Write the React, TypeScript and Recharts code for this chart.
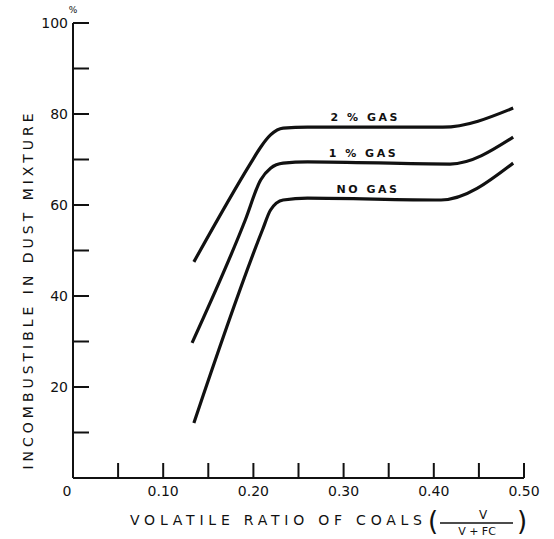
import React from 'react';
import { LineChart, Line, XAxis, YAxis, ReferenceDot, Label } from 'recharts';

// values (ratio = V / (V + FC), pct = incombustible %)
const twoPctGas = [
  { ratio: 0.134, pct: 47.5 },
  { ratio: 0.197, pct: 69.2 },
  { ratio: 0.208, pct: 72.7 },
  { ratio: 0.219, pct: 75.4 },
  { ratio: 0.233, pct: 76.9 },
  { ratio: 0.26, pct: 77.1 },
  { ratio: 0.41, pct: 77.1 },
  { ratio: 0.488, pct: 81.3 },
];

const onePctGas = [
  { ratio: 0.132, pct: 29.7 },
  { ratio: 0.191, pct: 56.7 },
  { ratio: 0.208, pct: 65.5 },
  { ratio: 0.219, pct: 68.1 },
  { ratio: 0.233, pct: 69.2 },
  { ratio: 0.26, pct: 69.5 },
  { ratio: 0.418, pct: 69.0 },
  { ratio: 0.488, pct: 74.9 },
];

const noGas = [
  { ratio: 0.134, pct: 12.1 },
  { ratio: 0.21, pct: 54.5 },
  { ratio: 0.219, pct: 58.9 },
  { ratio: 0.233, pct: 61.1 },
  { ratio: 0.26, pct: 61.5 },
  { ratio: 0.408, pct: 61.1 },
  { ratio: 0.488, pct: 69.2 },
];

const curveLabels = [
  { text: '2 % GAS', ratio: 0.324, pct: 77.1 },
  { text: '1 % GAS', ratio: 0.322, pct: 69.3 },
  { text: 'NO GAS', ratio: 0.327, pct: 61.3 },
];

const xTicks = [0, 0.05, 0.1, 0.15, 0.2, 0.25, 0.3, 0.35, 0.4, 0.45, 0.5];
const xTickLabels = ['0', '', '0.10', '', '0.20', '', '0.30', '', '0.40', '', '0.50'];
const yTicks = [0, 10, 20, 30, 40, 50, 60, 70, 80, 90, 100];

const INK = '#111';
const FONT = '"DejaVu Sans", sans-serif';

const XTick = (props: any) => {
  const { x, y, index } = props;
  const lbl = xTickLabels[index];
  return (
    <g>
      {index > 0 && <line x1={x} y1={y} x2={x} y2={y - 15} stroke={INK} strokeWidth={2} />}
      {lbl && (
        <text x={index === 0 ? x - 6 : x} y={y + 18} textAnchor="middle" fontSize={14} fill={INK} fontFamily={FONT}>
          {lbl}
        </text>
      )}
    </g>
  );
};

const YTick = (props: any) => {
  const { x, y, payload } = props;
  const v = payload.value;
  if (v === 0) return <g />;
  return (
    <g>
      <line x1={x} y1={y} x2={x + 16} y2={y} stroke={INK} strokeWidth={2} />
      {v % 20 === 0 && (
        <text x={x - 5} y={y} dy={5} textAnchor="end" fontSize={14} fill={INK} fontFamily={FONT}>
          {v}
        </text>
      )}
      {v === 100 && (
        <text x={x} y={y - 10} textAnchor="middle" fontSize={9} fill={INK} fontFamily={FONT}>%</text>
      )}
    </g>
  );
};

const YTitle = (props: any) => {
  const { viewBox } = props;
  const cx = viewBox.x + 15;
  const cy = viewBox.y + viewBox.height / 2 + 41;
  return (
    <text
      x={cx}
      y={cy}
      transform={`rotate(-90, ${cx}, ${cy})`}
      textAnchor="middle"
      dominantBaseline="central"
      fontSize={14}
      fill={INK}
      fontFamily={FONT}
      textLength={356}
      lengthAdjust="spacing"
    >
      INCOMBUSTIBLE IN DUST MIXTURE
    </text>
  );
};

const XTitle = (props: any) => {
  const { viewBox } = props;
  const x0 = viewBox.x;
  const y0 = viewBox.y;
  return (
    <g fill={INK} fontFamily={FONT}>
      <text x={x0 + 57} y={y0 + 47} fontSize={14} textLength={292} lengthAdjust="spacing">
        VOLATILE RATIO OF COALS
      </text>
      <text x={x0 + 355} y={y0 + 52} fontSize={26}>(</text>
      <text x={x0 + 410} y={y0 + 41} fontSize={12} textAnchor="middle">V</text>
      <line x1={x0 + 367} y1={y0 + 45} x2={x0 + 440} y2={y0 + 45} stroke={INK} strokeWidth={1.5} />
      <text x={x0 + 404} y={y0 + 57} fontSize={11} textAnchor="middle">V + FC</text>
      <text x={x0 + 444} y={y0 + 52} fontSize={26}>)</text>
    </g>
  );
};

const CurveLabel = (props: any) => {
  const { viewBox, value } = props;
  const cx = viewBox.x + viewBox.width / 2;
  const cy = viewBox.y + viewBox.height / 2;
  return (
    <text x={cx} y={cy - 6} textAnchor="middle" fontSize={11} fontWeight="bold" letterSpacing={2.5} fill={INK} fontFamily={FONT}>
      {value}
    </text>
  );
};

const series = [
  { key: 'two', data: twoPctGas },
  { key: 'one', data: onePctGas },
  { key: 'none', data: noGas },
];

export default function App() {
  return (
    <div style={{ position: 'absolute', left: 0, top: 0, width: 554, height: 539, background: '#fff' }}>
      <LineChart width={554} height={539} margin={{ top: 23, right: 30, bottom: 31, left: 13 }}>
        <XAxis
          type="number"
          dataKey="ratio"
          domain={[0, 0.5]}
          ticks={xTicks}
          interval={0}
          height={30}
          tickSize={0}
          tickMargin={0}
          tickLine={false}
          axisLine={{ stroke: INK, strokeWidth: 2 }}
          tick={<XTick />}
        >
          <Label content={<XTitle />} />
        </XAxis>
        <YAxis
          type="number"
          dataKey="pct"
          domain={[0, 100]}
          ticks={yTicks}
          interval={0}
          width={60}
          tickSize={0}
          tickMargin={0}
          tickLine={false}
          axisLine={{ stroke: INK, strokeWidth: 2 }}
          tick={<YTick />}
        >
          <Label content={<YTitle />} />
        </YAxis>
        {series.map(s => (
          <Line
            key={s.key}
            data={s.data}
            dataKey="pct"
            type="monotone"
            stroke={INK}
            strokeWidth={3.2}
            dot={false}
            activeDot={false}
            isAnimationActive={false}
          />
        ))}
        {curveLabels.map(c => (
          <ReferenceDot
            key={c.text}
            x={c.ratio}
            y={c.pct}
            r={1}
            fill="none"
            stroke="none"
            label={<CurveLabel value={c.text} />}
          />
        ))}
      </LineChart>
    </div>
  );
}
